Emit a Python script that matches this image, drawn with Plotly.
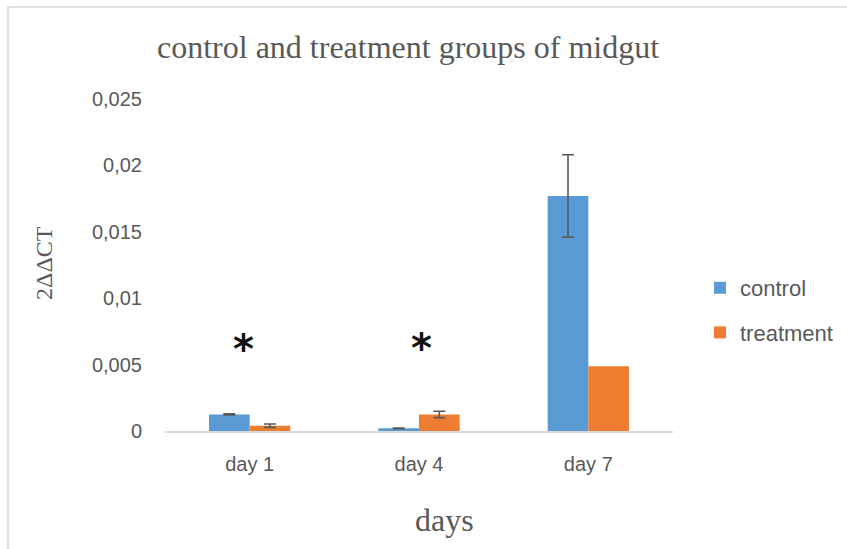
import plotly.graph_objects as go

# Relative expression (2^-ΔΔCT) in midgut, control vs treatment
days = ["day 1", "day 4", "day 7"]
control = [0.00125, 0.0002, 0.0177]
control_err = [0.00005, 0.00003, 0.0031]
treatment = [0.0004, 0.00125, 0.00487]
# day 7 treatment has no error bar
err_days = ["day 1", "day 4"]
treatment_err = [0.00013, 0.00024]

y_ticks = [0, 0.005, 0.01, 0.015, 0.02, 0.025]
y_tick_labels = ["0", "0,005", "0,01", "0,015", "0,02", "0,025"]

# significance markers above the groups
star_days = ["day 1", "day 4"]
star_y = [0.0066, 0.0067]
star_shift = [-6, 2]

BLUE = "#5b9bd5"
ORANGE = "#ed7d31"
GREY = "#595959"
SANS = "Liberation Sans Narrow, Arial Narrow, Liberation Sans, sans-serif"
SERIF = "Liberation Serif, Times New Roman, serif"

fig = go.Figure()
fig.add_trace(go.Bar(
    name="control", x=days, y=control, marker_color=BLUE,
    marker_line_width=0, legendgroup="c", offsetgroup="c",
    error_y=dict(type="data", array=control_err, color=GREY, thickness=1.6, width=6),
))
fig.add_trace(go.Bar(
    name="treatment", x=days, y=treatment, marker_color=ORANGE,
    marker_line_width=0, legendgroup="t", offsetgroup="t",
))
# error bars of the treatment group, placed on the treatment bars
treat_lookup = dict(zip(days, treatment))
fig.add_trace(go.Bar(
    name="treatment", x=err_days, y=[treat_lookup[d] for d in err_days],
    marker=dict(color="rgba(0,0,0,0)", line_width=0),
    legendgroup="t", offsetgroup="t", showlegend=False, hoverinfo="skip",
    error_y=dict(type="data", array=treatment_err, color=GREY, thickness=1.6, width=6),
))

for d, yv, sh in zip(star_days, star_y, star_shift):
    fig.add_annotation(x=d, y=yv, text="<b>*</b>", showarrow=False,
                       font=dict(family="DejaVu Sans, sans-serif", size=40, color="#111111"),
                       xshift=sh, yshift=-6, yanchor="middle")

W, H = 847, 549
L, R, T, B = 165, 174, 99, 118
pw, ph = W - L - R, H - T - B

def px_x(p):
    return (p - L) / pw

def px_y(p):
    return (H - B - p) / ph

fig.update_layout(
    width=W, height=H,
    margin=dict(l=L, r=R, t=T, b=B, pad=0, autoexpand=False),
    paper_bgcolor="white", plot_bgcolor="white",
    barmode="group", bargap=0.52, bargroupgap=0,
    showlegend=True,
    legend=dict(x=px_x(700), y=px_y(267), xanchor="left", yanchor="top",
                font=dict(family=SANS, size=22, color=GREY),
                itemwidth=30, tracegroupgap=13, bgcolor="rgba(0,0,0,0)"),
    xaxis=dict(showgrid=False, showline=True, linecolor="#d9d9d9", linewidth=1.5,
               ticks="", ticklabelstandoff=14,
               tickfont=dict(family=SANS, size=20, color=GREY)),
    yaxis=dict(range=[0, 0.025], tickvals=y_ticks, ticktext=y_tick_labels,
               showgrid=False, showline=False, zeroline=False, ticks="",
               ticklabelstandoff=22,
               tickfont=dict(family=SANS, size=20, color=GREY)),
    shapes=[dict(type="rect", xref="paper", yref="paper",
                 x0=px_x(8), x1=px_x(850), y0=px_y(553), y1=px_y(7),
                 line=dict(color="#d9d9d9", width=1.5), layer="below")],
)

fig.add_annotation(xref="paper", yref="paper", x=px_x(408), y=px_y(47),
                   text="control and treatment groups of midgut", showarrow=False,
                   font=dict(family=SERIF, size=32, color=GREY),
                   xanchor="center", yanchor="middle")
fig.add_annotation(xref="paper", yref="paper", x=px_x(444), y=px_y(520),
                   text="days", showarrow=False,
                   font=dict(family=SERIF, size=32, color=GREY),
                   xanchor="center", yanchor="middle")
fig.add_annotation(xref="paper", yref="paper", x=px_x(44), y=px_y(263),
                   text="2ΔΔCT", showarrow=False, textangle=-90,
                   font=dict(family=SERIF, size=24, color=GREY),
                   xanchor="center", yanchor="middle")

fig.write_html("out.html")
